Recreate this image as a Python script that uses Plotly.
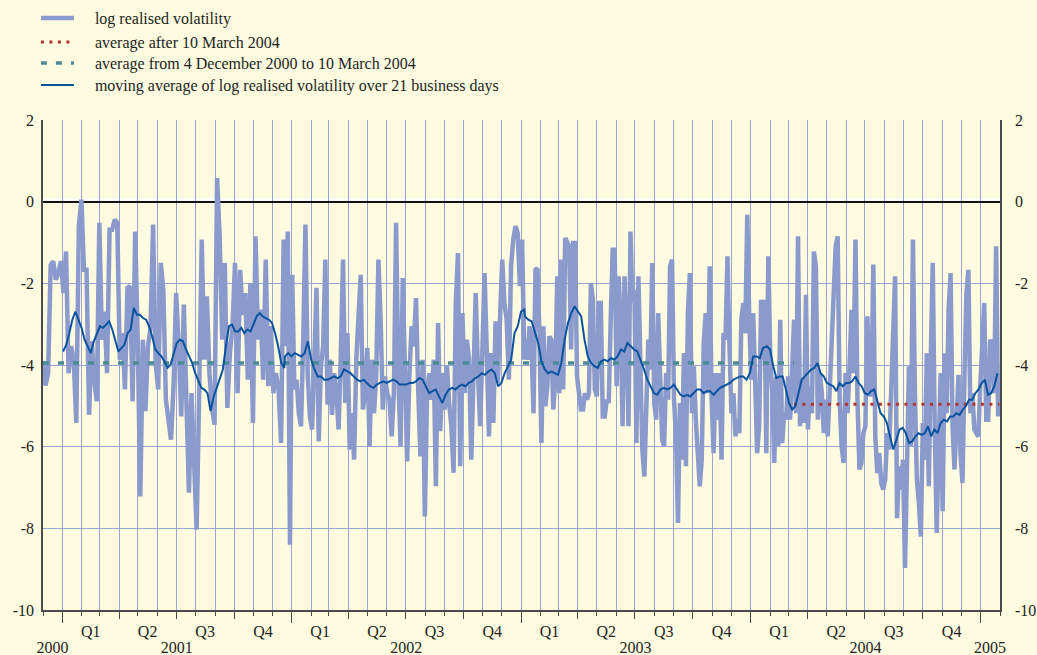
import pandas as pd
import plotly.graph_objects as go

# ---------------- data ----------------
# log realised volatility, four consecutive stretches of the sample
vol_seg1 = [-3.9, -4.5, -4.2, -1.55, -1.46, -1.91, -1.75, -1.46, -2.24, -1.22, -4.2, -3.54, -3.87, -5.42, -0.6,
            0.05, -1.67, -1.67, -5.22, -3.42, -4.36, -4.89, -0.52, -3.38, -2.69, -4.2, -0.69, -0.69, -0.44, -0.52,
            -3.87, -3.22, -4.6, -2.11, -2.07, -4.89, -0.73, -3.38, -7.22, -3.38, -5.13, -3.54, -3.09, -0.56, -3.95,
            -4.6, -1.5, -2.16, -4.85, -5.26, -5.83, -4.52, -2.24, -3.54, -5.26, -2.52, -4.69, -7.13, -4.69, -6.52,
            -8.03, -4.69, -0.93, -3.87, -2.32, -4.2, -5.05, -5.46, 0.58, -0.85, -3.38, -1.5, -5.05, -3.71, -3.09,
            -1.5, -4.69, -1.67, -2.77, -2.24, -4.36, -1.99, -5.42, -0.85, -3.38, -2.64, -4.36, -1.42, -4.52, -3.05,
            -4.69, -4.2, -4.6, -5.91, -0.93]
vol_seg2 = [-3.54, -0.73, -8.4, -1.79, -4.6, -4.36, -5.18, -5.5, -3.38, -0.56, -4.2, -5.26, -5.58, -3.87, -2.11,
            -5.87, -4.03, -3.54, -1.42, -4.97, -3.87, -5.22, -4.2, -4.69, -5.58, -3.71, -1.42, -4.93, -3.22, -6.07,
            -5.18, -6.32, -3.87, -2.81, -1.79, -5.09, -4.69, -3.58, -5.99, -3.87, -5.18, -4.28, -1.42, -2.89, -5.09,
            -4.28, -4.69, -4.85, -5.75, -4.69, -0.52, -4.2, -5.99, -1.87, -4.03, -6.36, -4.28, -3.05, -3.54, -2.36,
            -4.6, -6.24, -3.87, -7.71, -4.69, -4.2, -4.85, -3.87, -6.97, -2.97, -5.62, -4.2, -5.09, -4.03, -4.93,
            -5.5, -6.64, -2.48, -1.26, -6.48, -2.73, -4.69, -3.38, -3.87, -6.32, -4.2, -2.24, -4.11, -5.5, -3.71,
            -1.75, -3.62, -5.75, -3.71, -5.42, -2.93, -4.44, -2.89, -1.42, -2.48, -2.89, -4.36, -1.58, -0.93, -0.6,
            -0.77, -2.07, -0.93, -3.87]
vol_seg3 = [-3.38, -3.87, -3.05, -3.54, -5.18, -1.67, -1.63, -3.22, -5.91, -3.05, -5.01, -4.52, -3.3, -3.38, -5.09,
            -4.36, -1.83, -4.69, -1.42, -4.6, -0.89, -1.01, -1.09, -3.62, -1.01, -1.01, -4.28, -4.69, -5.09, -5.09,
            -4.69, -4.85, -4.69, -1.99, -2.4, -4.6, -4.77, -2.48, -2.48, -5.26, -5.26, -4.85, -4.93, -2.89, -1.18,
            -1.18, -4.52, -1.83, -2.89, -5.5, -1.83, -3.22, -5.5, -0.73, -2.48, -2.16, -5.91, -1.83, -4.69, -6.07,
            -6.73, -4.85, -3.38, -4.11, -1.5, -4.93, -5.34, -2.73, -4.69, -5.83, -5.99, -4.2, -4.85, -1.58, -1.42,
            -4.85, -5.75, -7.87, -4.93, -6.32, -3.71, -6.48, -2.73, -1.75, -5.18, -4.03, -5.34, -6.07, -6.97, -6.32,
            -3.46, -2.73, -4.69, -1.58, -4.85, -6.16, -4.2, -5.34, -4.2, -6.32, -3.22, -3.38, -1.34, -3.54, -5.18,
            -4.69, -5.75, -5.34, -5.67, -2.89, -2.48, -3.22, -0.32, -2.89, -4.36, -2.73, -4.52, -6.16, -5.5, -2.4,
            -3.87]
vol_seg4 = [-2.4, -6.16, -1.34, -3.87, -4.69, -6.4, -4.28, -5.99, -2.89, -5.91, -5.18, -5.34, -4.28, -5.34, -4.03,
            -2.89, -5.18, -0.85, -5.5, -4.36, -5.42, -2.28, -5.58, -4.52, -5.18, -1.22, -1.58, -5.34, -4.2, -4.69,
            -5.67, -4.85, -5.75, -4.69, -3.46, -2.07, -1.09, -0.85, -4.85, -5.99, -6.4, -4.2, -5.18, -4.03, -2.65,
            -4.2, -0.93, -4.85, -6.56, -6.4, -5.67, -5.5, -2.81, -4.6, -4.77, -1.54, -5.75, -6.65, -6.16, -6.89,
            -7.05, -6.81, -5.67, -6.07, -4.69, -3.87, -1.83, -7.75, -6.48, -7.05, -6.32, -8.97, -6.32, -4.03, -5.99,
            -0.93, -4.69, -6.81, -7.38, -8.2, -5.42, -6.32, -3.71, -6.97, -3.87, -1.5, -5.5, -8.11, -5.99, -4.2,
            -7.58, -3.71, -5.18, -2.65, -1.75, -5.5, -6.56, -5.01, -4.24, -6.16, -6.89, -4.28, -2.24, -1.67, -5.18,
            -4.69, -5.58, -5.67, -5.75, -4.52, -3.54, -2.48, -5.34, -5.34, -3.38, -3.54, -4.69, -1.09, -5.26]
vol_seg_dates = [("2000-12-01", "2001-12-19"), ("2001-12-22", "2003-01-06"),
                 ("2003-01-08", "2004-01-21"), ("2004-01-23", "2005-01-29")]

# moving average of log realised volatility over 21 business days
ma_seg1 = [-3.67, -3.51, -3.22, -2.89, -2.69, -2.89, -3.09, -3.38, -3.54, -3.71, -3.42, -3.22, -3.05, -3.09, -3.01,
           -2.93, -3.13, -3.42, -3.67, -3.58, -3.5, -3.22, -3.13, -2.6, -2.77, -2.77, -2.85, -2.89, -3.05, -3.3,
           -3.62, -3.71, -3.79, -3.91, -4.07, -3.99, -3.71, -3.46, -3.38, -3.42, -3.62, -3.79, -3.95, -4.2, -4.36,
           -4.56, -4.6, -4.69, -5.13, -4.77, -4.56, -4.32, -4.11, -3.54, -3.05, -3.01, -3.18, -3.18, -3.09, -3.22,
           -3.13, -3.18, -2.97, -2.81, -2.73, -2.81, -2.85, -2.89, -2.97, -3.22, -3.54, -3.95, -4.07]
ma_seg2 = [-3.79, -3.71, -3.79, -3.71, -3.75, -3.79, -3.71, -3.42, -3.87, -4.11, -4.28, -4.28, -4.36, -4.36, -4.32,
           -4.28, -4.32, -4.28, -4.11, -4.16, -4.2, -4.28, -4.36, -4.4, -4.36, -4.44, -4.52, -4.56, -4.48, -4.44,
           -4.4, -4.44, -4.4, -4.36, -4.4, -4.48, -4.48, -4.48, -4.44, -4.44, -4.4, -4.32, -4.36, -4.52, -4.69,
           -4.64, -4.6, -4.77, -4.93, -4.73, -4.6, -4.56, -4.6, -4.52, -4.48, -4.52, -4.44, -4.4, -4.32, -4.28,
           -4.2, -4.24, -4.16, -4.11, -4.2, -4.52, -4.44, -4.2, -4.03, -3.87, -3.22, -3.05, -2.69, -2.64]
ma_seg3 = [-2.81, -2.89, -2.93, -3.22, -3.46, -3.91, -4.11, -4.2, -4.16, -4.2, -4.24, -3.95, -3.38, -2.97, -2.73,
           -2.56, -2.69, -2.81, -3.38, -3.79, -3.95, -4.03, -4.07, -3.91, -3.87, -3.91, -3.83, -3.87, -3.79, -3.62,
           -3.67, -3.46, -3.54, -3.62, -3.67, -3.87, -4.11, -4.36, -4.52, -4.69, -4.73, -4.6, -4.56, -4.6, -4.56,
           -4.48, -4.6, -4.73, -4.77, -4.73, -4.77, -4.69, -4.6, -4.6, -4.69, -4.64, -4.64, -4.73, -4.64, -4.56,
           -4.52, -4.48, -4.44, -4.36, -4.32, -4.28, -4.28, -4.36, -4.2, -3.79, -3.79, -3.83, -3.58]
ma_seg4 = [-3.58, -3.54, -3.62, -4.03, -4.32, -4.28, -4.28, -4.6, -4.93, -5.09, -5.01, -4.69, -4.36, -4.28, -4.2,
           -4.11, -4.07, -3.95, -4.2, -4.28, -4.44, -4.48, -4.52, -4.64, -4.44, -4.52, -4.44, -4.44, -4.4, -4.28,
           -4.44, -4.52, -4.69, -4.73, -4.64, -4.6, -4.93, -5.18, -5.26, -5.42, -5.75, -6.07, -5.83, -5.58, -5.54,
           -5.67, -5.91, -5.87, -5.75, -5.67, -5.71, -5.67, -5.5, -5.75, -5.58, -5.67, -5.42, -5.34, -5.38, -5.26,
           -5.26, -5.18, -5.22, -5.09, -5.01, -4.85, -4.85, -4.69, -4.6, -4.44, -4.36, -4.73, -4.69, -4.52, -4.2]
ma_seg_dates = [("2001-01-02", "2001-12-20"), ("2001-12-21", "2003-01-06"),
                ("2003-01-07", "2004-01-21"), ("2004-01-22", "2005-01-28")]

# averages
avg_before_value = -3.95
avg_before_dates = ["2000-12-01", "2004-03-10"]
avg_after_value = -4.96
avg_after_dates = ["2004-03-10", "2005-01-31"]

# axis labels
y_ticks = [2, 0, -2, -4, -6, -8, -10]
y_tick_labels = ["2", "0", "-2", "-4", "-6", "-8", "-10"]
quarter_labels = ["Q1", "Q2", "Q3", "Q4"] * 4
year_labels = ["2000", "2001", "2002", "2003", "2004", "2005"]
year_label_dates = ["2000-12-16", "2001-07-02", "2002-07-02", "2003-07-02", "2004-07-02", "2005-01-16"]

# ---------------- build series ----------------
def join(segs, bounds):
    xs, ys = [], []
    for seg, (a, b) in zip(segs, bounds):
        xs += list(pd.date_range(a, b, periods=len(seg)))
        ys += seg
    return xs, ys

vol_x, vol_y = join([vol_seg1, vol_seg2, vol_seg3, vol_seg4], vol_seg_dates)
ma_x, ma_y = join([ma_seg1, ma_seg2, ma_seg3, ma_seg4], ma_seg_dates)

month_starts = pd.date_range("2000-12-01", "2005-02-01", freq="MS")
quarter_starts = pd.date_range("2001-01-01", "2005-01-01", freq="QS")
quarter_mids = [q + (quarter_starts[i + 1] - q) / 2 for i, q in enumerate(quarter_starts[:-1])]
year_starts = pd.date_range("2001-01-01", "2005-01-01", freq="YS")

BG = "#FEFBE0"
GRID = "#97A6D6"
AXIS = "#4A4A4A"
TXT = "#231F20"
FONT = "Liberation Serif, Times New Roman, serif"
PAD = "\u00a0\u00a0\u00a0\u00a0"

fig = go.Figure()
fig.add_trace(go.Scatter(x=vol_x, y=vol_y, mode="lines", name=PAD + "log realised volatility",
                         line=dict(color="#8A9ACC", width=4.5), legend="legend"))
fig.add_trace(go.Scatter(x=avg_before_dates, y=[avg_before_value] * 2, mode="lines",
                         name=PAD + "average from 4 December 2000 to 10 March 2004",
                         line=dict(color="#4B8B96", width=3.5, dash="6px,9px"), legend="legend3"))
fig.add_trace(go.Scatter(x=avg_after_dates, y=[avg_after_value] * 2, mode="lines",
                         name=PAD + "average after 10 March 2004",
                         line=dict(color="#B3322F", width=3, dash="3px,5.5px"), legend="legend2"))
fig.add_trace(go.Scatter(x=ma_x, y=ma_y, mode="lines",
                         name=PAD + "moving average of log realised volatility over 21 business days",
                         line=dict(color="#0B539F", width=2), legend="legend4"))
# helper (empty) traces so that the extra tick axes are rendered
for ax in ["x2", "x3", "x4"]:
    fig.add_trace(go.Scatter(x=[month_starts[0]], y=[None], xaxis=ax, yaxis="y", showlegend=False,
                             hoverinfo="skip"))
fig.add_trace(go.Scatter(x=[month_starts[0]], y=[None], xaxis="x", yaxis="y2", showlegend=False,
                         hoverinfo="skip"))

xrange = ["2000-12-01", "2005-02-01"]
tickfont = dict(family=FONT, size=16, color=TXT)


def legend_at(ypaper):
    return dict(x=-0.0074, y=ypaper, xanchor="left", yanchor="middle", bgcolor="rgba(0,0,0,0)",
                font=dict(family=FONT, size=16, color=TXT), itemwidth=33)


fig.update_layout(
    width=1037, height=655,
    margin=dict(l=43, r=37, t=120, b=45, autoexpand=False),
    paper_bgcolor=BG, plot_bgcolor=BG,
    font=dict(family=FONT, size=16, color=TXT),
    showlegend=True,
    legend=legend_at(1.2082),
    legend2=legend_at(1.1592),
    legend3=legend_at(1.1163),
    legend4=legend_at(1.0714),
    xaxis=dict(type="date", range=xrange, tickmode="array", tickvals=quarter_mids, ticktext=quarter_labels,
               ticks="", showgrid=False, zeroline=False, showline=True, linecolor=AXIS, linewidth=1.5,
               tickfont=tickfont, ticklabelstandoff=6, automargin=False,
               minor=dict(tickmode="array", tickvals=list(month_starts), ticks="outside", ticklen=4,
                          tickcolor=AXIS, tickwidth=1.2, showgrid=True, gridcolor=GRID, gridwidth=1.2)),
    xaxis2=dict(type="date", range=xrange, overlaying="x", matches="x", anchor="y", side="bottom",
                tickmode="array", tickvals=list(quarter_starts), ticks="outside", ticklen=8, tickwidth=1.2,
                tickcolor=AXIS, showticklabels=False, showgrid=False, zeroline=False, showline=False,
                automargin=False),
    xaxis3=dict(type="date", range=xrange, overlaying="x", matches="x", anchor="y", side="bottom",
                tickmode="array", tickvals=year_label_dates, ticktext=year_labels, ticks="",
                tickfont=tickfont, ticklabelstandoff=26, showgrid=False, zeroline=False, showline=False,
                automargin=False),
    xaxis4=dict(type="date", range=xrange, overlaying="x", matches="x", anchor="y", side="bottom",
                tickmode="array", tickvals=list(year_starts), ticks="outside", ticklen=12, tickwidth=1.2,
                tickcolor=AXIS, showticklabels=False, showgrid=False, zeroline=False, showline=False,
                automargin=False),
    yaxis=dict(range=[-10, 2], tickmode="array", tickvals=y_ticks, ticktext=y_tick_labels, ticks="",
               showgrid=True, gridcolor=GRID, gridwidth=1.2, zeroline=True, zerolinecolor="#111111",
               zerolinewidth=1.6, showline=True, linecolor=AXIS, linewidth=1.5, tickfont=tickfont,
               ticklabelstandoff=4, automargin=False),
    yaxis2=dict(range=[-10, 2], overlaying="y", matches="y", side="right", anchor="x", tickmode="array",
                tickvals=y_ticks, ticktext=y_tick_labels, ticks="", showgrid=False, zeroline=False,
                showline=True, linecolor=AXIS, linewidth=1.5, tickfont=tickfont, ticklabelstandoff=10,
                automargin=False),
    shapes=[dict(type="line", xref="paper", x0=0, x1=1, yref="y", ysizemode="pixel", yanchor=0,
                 y0=2.2, y1=2.2, line=dict(color="white", width=2), layer="between")],
)

fig.write_html(
    "out.html",
    config={"displayModeBar": False},
    post_script="document.body.style.margin='0';document.body.style.background='" + BG + "';",
)
